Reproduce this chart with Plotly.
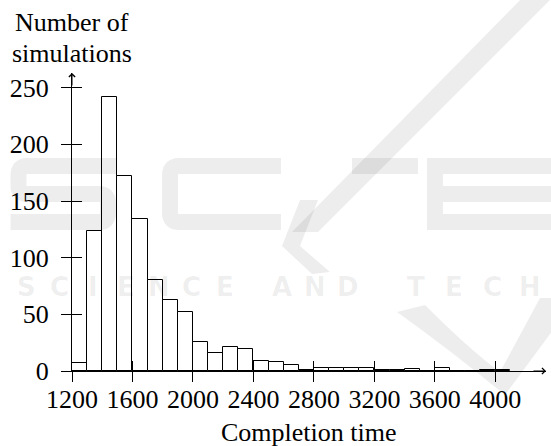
import plotly.graph_objects as go

# Histogram of simulated completion times (bins of width 100)
bin_starts = [1200, 1300, 1400, 1500, 1600, 1700, 1800, 1900, 2000, 2100,
              2200, 2300, 2400, 2500, 2600, 2700, 2800, 2900, 3000, 3100,
              3200, 3300, 3400, 3500, 3600, 3700, 3800, 3900, 4000]
counts = [7, 124, 242, 172, 134, 80, 63, 52, 26, 16,
          21, 19, 9, 8, 5, 1, 3, 3, 3, 3,
          1, 1, 2, 0, 3, 0, 0, 1, 1]
bin_width = 100

x_ticks = [1200, 1600, 2000, 2400, 2800, 3200, 3600, 4000]
y_ticks = [0, 50, 100, 150, 200, 250]
x_title = "Completion time"
y_title_lines = ["Number of", "simulations"]

W, H = 551, 446
ML, MR, MT, MB = 72, 5, 73, 75
X_RANGE = [1200, 4335]
Y_RANGE = [0, 263]

SERIF = "Liberation Serif"
FS = 26
WM = "rgba(0,0,0,0.07)"


def fx(p):
    """pixel column -> paper x"""
    return (p - ML) / (W - ML - MR)


def fy(p):
    """pixel row -> paper y"""
    return (H - MB - p) / (H - MT - MB)


def path(cmds):
    out = []
    for c in cmds:
        if isinstance(c, str):
            out.append(c)
        else:
            out.append(f"{fx(c[0]):.4f},{fy(c[1]):.4f}")
    return " ".join(out)


fig = go.Figure()
fig.add_trace(go.Bar(
    x=bin_starts, y=counts, width=bin_width, offset=0,
    marker=dict(color="white", line=dict(color="black", width=1)),
    showlegend=False, hoverinfo="skip",
))
# empty trace so the overlay axes (inner half of the crossing ticks) are drawn
fig.add_trace(go.Scatter(x=[], y=[], xaxis="x2", yaxis="y2",
                         showlegend=False, hoverinfo="skip"))

axis_common = dict(showgrid=False, zeroline=False, tickcolor="black",
                   tickwidth=1, ticklen=10)
tick_font = dict(family=SERIF, size=FS, color="black")

fig.update_layout(
    width=W, height=H,
    margin=dict(l=ML, r=MR, t=MT, b=MB, pad=0),
    paper_bgcolor="white", plot_bgcolor="white",
    bargap=0,
    # outer half of the x ticks, no labels
    xaxis=dict(range=X_RANGE, tickvals=x_ticks, ticks="outside",
               showline=True, linecolor="black", linewidth=1,
               showticklabels=False, **axis_common),
    yaxis=dict(range=Y_RANGE, tickvals=y_ticks, ticks="outside",
               showline=True, linecolor="black", linewidth=1,
               tickfont=tick_font, ticklabelstandoff=7, **axis_common),
    # inner half of the x ticks, carries the labels
    xaxis2=dict(range=X_RANGE, tickvals=x_ticks, ticks="inside",
                overlaying="x", anchor="y", side="bottom",
                tickfont=tick_font, ticklabelstandoff=10,
                showline=False, **axis_common),
    yaxis2=dict(range=Y_RANGE, tickvals=y_ticks, ticks="inside",
                overlaying="y", anchor="x", side="left",
                showticklabels=False, showline=False, **axis_common),
)

annotations = []
# axis arrows
annotations.append(dict(xref="paper", yref="paper", x=0, y=1, ax=0, ay=14,
                        text="", showarrow=True, arrowhead=4, arrowsize=1.2,
                        arrowwidth=1, arrowcolor="black"))
annotations.append(dict(xref="paper", yref="paper", x=1, y=0, ax=-14, ay=0,
                        text="", showarrow=True, arrowhead=4, arrowsize=1.2,
                        arrowwidth=1, arrowcolor="black"))
# axis titles
annotations.append(dict(xref="paper", yref="paper", x=fx(72), y=fy(23),
                        text=y_title_lines[0], showarrow=False,
                        xanchor="center", yanchor="middle",
                        font=dict(family=SERIF, size=FS, color="black")))
annotations.append(dict(xref="paper", yref="paper", x=fx(72), y=fy(54),
                        text=y_title_lines[1], showarrow=False,
                        xanchor="center", yanchor="middle",
                        font=dict(family=SERIF, size=FS, color="black")))
annotations.append(dict(xref="paper", yref="paper", x=fx(309), y=fy(432),
                        text=x_title, showarrow=False,
                        xanchor="center", yanchor="middle",
                        font=dict(family=SERIF, size=FS, color="black")))

# faint publisher watermark: lettering row
wm_words = [("SCIENCE", 10, 33.0), ("AND", 265, 33.3), ("TECHNOLOGY", 397, 38.0)]
for word, start, pitch in wm_words:
    for i, ch in enumerate(word):
        cx = start + pitch * (i + 0.5)
        if cx > W - 15:
            break
        annotations.append(dict(xref="paper", yref="paper", x=fx(cx), y=fy(287),
                                text=ch, showarrow=False, xanchor="center",
                                yanchor="middle",
                                font=dict(family="DejaVu Sans", size=26,
                                          color=WM, weight="bold")))
fig.update_layout(annotations=annotations)

# faint publisher watermark: large logo strokes
shapes = []
stroke = dict(color=WM, width=16)
# S
shapes.append(dict(type="path", xref="paper", yref="paper", layer="above",
                   line=stroke, path=path([
                       "M", (116, 166), "L", (27, 166), "Q", (18.5, 166), (18.5, 175),
                       "L", (18.5, 186), "Q", (18.5, 194), (27, 194), "L", (99, 194),
                       "Q", (108, 194), (108, 203), "L", (108, 213), "Q", (108, 222),
                       (99, 222), "L", (10.5, 222)])))
# C
shapes.append(dict(type="path", xref="paper", yref="paper", layer="above",
                   line=stroke, path=path([
                       "M", (281, 166), "L", (179, 166), "Q", (170, 166), (170, 175),
                       "L", (170, 213), "Q", (170, 222), (179, 222), "L", (281, 222)])))
# T
shapes.append(dict(type="path", xref="paper", yref="paper", layer="above",
                   line=stroke, path=path(["M", (352, 166), "L", (418, 166)])))
# E
shapes.append(dict(type="path", xref="paper", yref="paper", layer="above",
                   line=stroke, path=path([
                       "M", (560, 166), "L", (435, 166), "L", (435, 222), "L", (560, 222),
                       "M", (435, 194), "L", (560, 194)])))
# diagonal slash
shapes.append(dict(type="path", xref="paper", yref="paper", layer="above",
                   line=dict(width=0), fillcolor=WM, path=path([
                       "M", (292, 232), "L", (318, 232), "L", (552, -2), "L", (522, -2), "Z"])))
# chevron
shapes.append(dict(type="path", xref="paper", yref="paper", layer="above",
                   line=dict(width=0), fillcolor=WM, path=path([
                       "M", (300, 200), "L", (318, 200), "L", (300, 246), "L", (330, 272),
                       "L", (312, 274), "L", (282, 246), "Z"])))
# sweeping V
shapes.append(dict(type="path", xref="paper", yref="paper", layer="above",
                   line=dict(width=0), fillcolor=WM, path=path([
                       "M", (397, 312), "L", (425, 305), "Q", (470, 350), (500, 372),
                       "L", (540, 298), "L", (553, 298), "L", (553, 330),
                       "L", (505, 395), "Q", (450, 350), (397, 312), "Z"])))
fig.update_layout(shapes=shapes)

fig.write_html("out.html")
